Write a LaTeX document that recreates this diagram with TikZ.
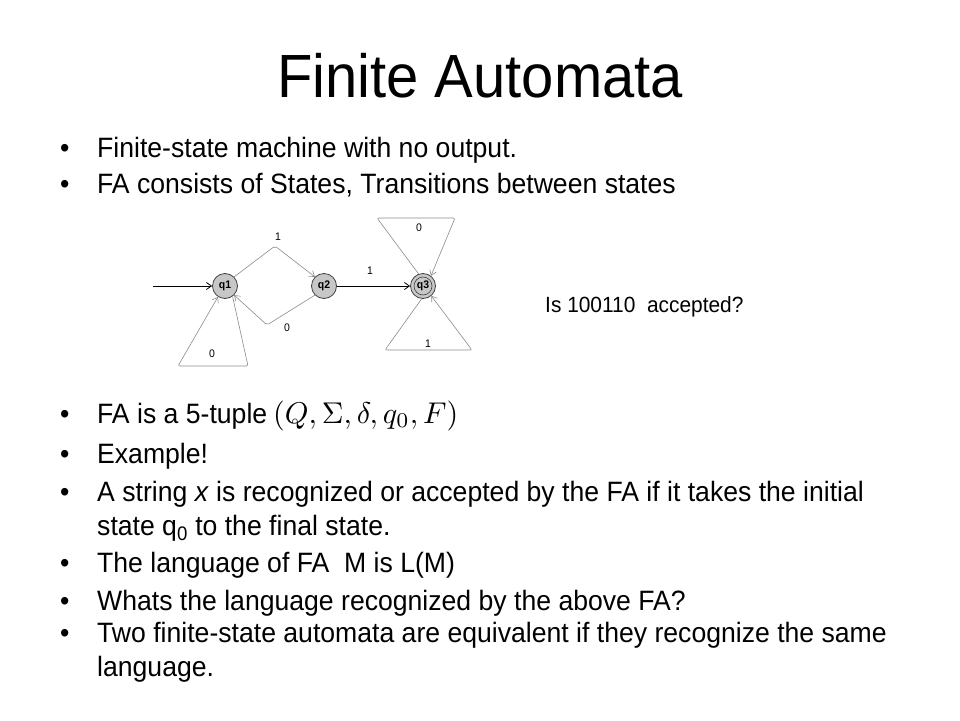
\documentclass[tikz,border=0pt]{standalone}
\usepackage{fontspec}
\setmainfont{Liberation Sans}[FakeStretch=0.95]
\usetikzlibrary{arrows.meta}
\begin{document}
\begin{tikzpicture}[x=1pt,y=-1pt,
  txt/.style={anchor=base west,inner sep=0pt,font=\fontsize{28}{34}\selectfont},
  fastate/.style={circle,draw=black!75,fill=black!22,line width=0.8pt,minimum size=25pt,inner sep=0pt,font=\fontsize{11}{13}\selectfont\bfseries},
  trans/.style={draw=black!45,line width=0.6pt,rounded corners=2pt,-{Straight Barb[length=5pt,width=7pt]}},
  blk/.style={draw=black,line width=0.8pt,-{Straight Barb[length=5pt,width=7pt]}},
  lbl/.style={font=\fontsize{11}{13}\selectfont,inner sep=0pt}]
\fill[white] (0,0) rectangle (960,720);
\useasboundingbox (0,0) rectangle (960,720);
% title
\node[anchor=base,inner sep=0pt,font=\fontsize{61}{70}\selectfont] (title) at (480,97) {Finite Automata};
% bullets
\foreach \yy/\nm in {157/b1,193/b2,423/b3,463/b4,501/b5,572/b6,610/b7,642/b8}{
  \node[txt] (\nm) at (60,\yy) {\textbullet};
}
\node[txt] (t1) at (97,157) {Finite-state machine with no output.};
\node[txt] (t2) at (97,193) {FA consists of States, Transitions between states};
\node[txt] (t3) at (97,423) {FA is a 5-tuple};
\node[anchor=base west,inner sep=0pt] (tup) at (273,423) {\scalebox{3}{$(Q,\Sigma,\delta,q_0,F)$}};
\node[txt] (t4) at (97,463) {Example!};
\node[txt] (t5) at (97,501) {A string \textit{x} is recognized or accepted by the FA if it takes the initial};
\node[txt] (t5b) at (97,535) {state q\textsubscript{0} to the final state.};
\node[txt] (t6) at (97,572) {The language of FA\ \ M is L(M)};
\node[txt] (t7) at (97,610) {Whats the language recognized by the above FA?};
\node[txt] (t8) at (97,642) {Two finite-state automata are equivalent if they recognize the same};
\node[txt] (t8b) at (97,676) {language.};
\node[anchor=base west,inner sep=0pt,font=\fontsize{22}{26}\selectfont] (ask) at (545,312) {Is 100110\ \ accepted?};
% automaton
\node[fastate] (q1) at (225,286) {q1};
\node[fastate] (q2) at (324,286) {q2};
\node[fastate] (q3) at (423,286) {};
\node[circle,draw=black!75,line width=0.6pt,minimum size=18pt,inner sep=0pt] (q3i) at (q3.center) {};
\node[font=\fontsize{11}{13}\selectfont\bfseries,inner sep=0pt] (q3t) at (q3.center) {q3};
\coordinate (init) at (153,286);
\draw[blk] (init) -- (q1);
\coordinate (c1) at (275,246);
\draw[trans] (q1.45) -- (c1) -- (q2.135);
\coordinate (c2) at (267,325);
\draw[trans] (q2.225) -- (c2) -- (q1.-45);
\coordinate (l1a) at (248,366);
\coordinate (l1b) at (178,366);
\draw[trans] (q1.-54) -- (l1a) -- (l1b) -- (q1.237);
\draw[blk] (q2) -- (q3);
\coordinate (l3a) at (377,218);
\coordinate (l3b) at (455,218);
\draw[trans] (q3.110) -- (l3a) -- (l3b) -- (q3.52);
\coordinate (l4a) at (385,350);
\coordinate (l4b) at (472,350);
\draw[trans] (q3.264) -- (l4a) -- (l4b) -- (q3.-50);
% labels
\node[lbl] (e1) at (278,237) {1};
\node[lbl] (e2) at (287,328) {0};
\node[lbl] (e3) at (212,354) {0};
\node[lbl] (e4) at (370,271) {1};
\node[lbl] (e5) at (419,228) {0};
\node[lbl] (e6) at (428,344) {1};
\end{tikzpicture}
\end{document}
